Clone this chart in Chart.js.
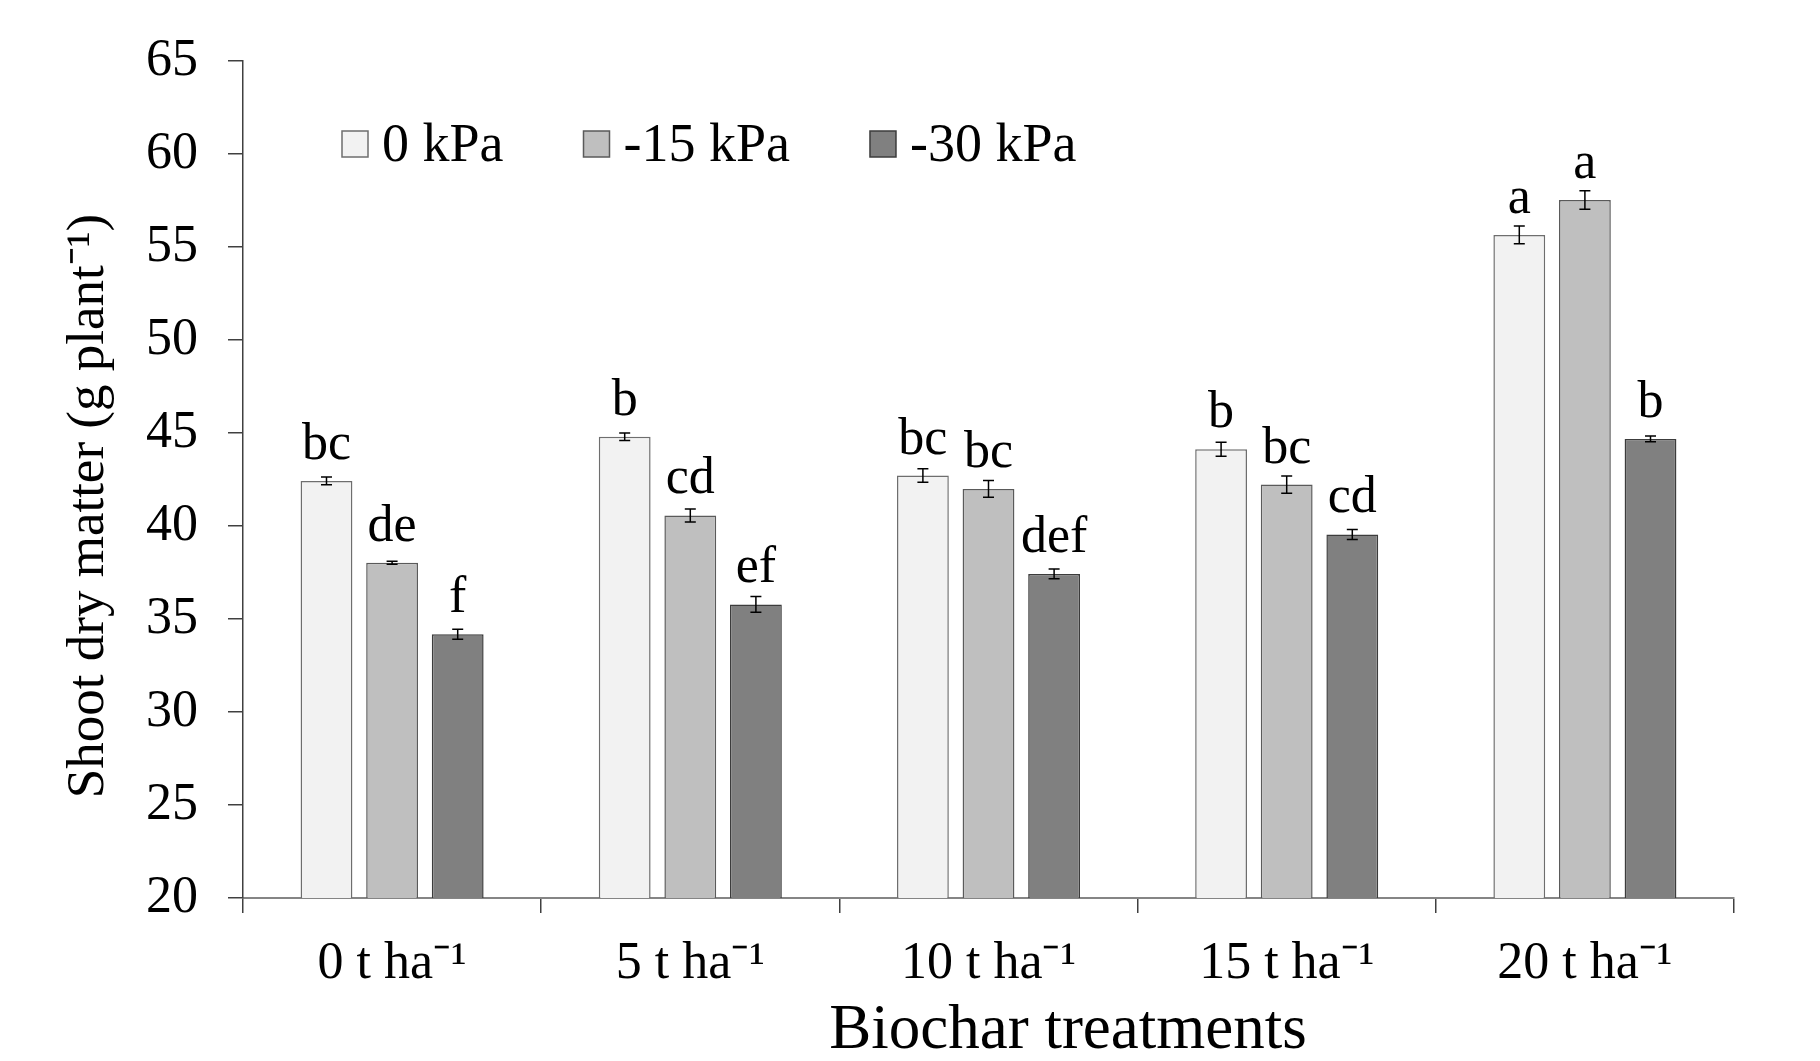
<!DOCTYPE html>
<html>
<head>
<meta charset="utf-8">
<script src="https://cdn.jsdelivr.net/npm/chart.js@4.4.0/dist/chart.umd.min.js"></script>
<style>
  html, body { margin: 0; padding: 0; background: #fff; }
  #wrap { width: 1820px; height: 1061px; }
</style>
</head>
<body>
<div id="wrap"><canvas id="chart" width="1820" height="1061"></canvas></div>
<script>
// Shoot dry matter by biochar rate and soil water potential

const categories = ["0 t ha\u207B\u00B9", "5 t ha\u207B\u00B9", "10 t ha\u207B\u00B9", "15 t ha\u207B\u00B9", "20 t ha\u207B\u00B9"]
const seriesNames = ["0 kPa", "-15 kPa", "-30 kPa"]

const kpa0 = [42.43, 44.8, 42.72, 44.13, 55.66]
const kpa15 = [38.03, 40.57, 42.0, 42.23, 57.54]
const kpa30 = [34.18, 35.79, 37.43, 39.55, 44.69]

const err0 = [0.21, 0.2, 0.36, 0.38, 0.48]
const err15 = [0.08, 0.35, 0.45, 0.46, 0.5]
const err30 = [0.27, 0.43, 0.26, 0.27, 0.16]

const letters0 = ["bc", "b", "bc", "b", "a"]
const letters15 = ["de", "cd", "bc", "bc", "a"]
const letters30 = ["f", "ef", "def", "cd", "b"]

const yMin = 20
const yMax = 65
const yStep = 5

const yTitle = "Shoot dry matter (g plant\u207B\u00B9)"
const xTitle = "Biochar treatments"

const serif = '"Liberation Serif", "Times New Roman", serif'

// Error bars + significance letters above each bar
const errorBarsPlugin = {
  id: "errorBars",
  afterDatasetsDraw(chart) {
    const ctx = chart.ctx
    const yScale = chart.scales.y
    ctx.save()
    chart.data.datasets.forEach((ds, i) => {
      const meta = chart.getDatasetMeta(i)
      meta.data.forEach((bar, j) => {
        const v = ds.data[j]
        const e = ds.errors[j]
        const top = yScale.getPixelForValue(v + e)
        const bot = yScale.getPixelForValue(v - e)
        ctx.strokeStyle = "#000"
        ctx.lineWidth = 1.5
        ctx.beginPath()
        ctx.moveTo(bar.x, top)
        ctx.lineTo(bar.x, bot)
        ctx.moveTo(bar.x - 5.5, top)
        ctx.lineTo(bar.x + 5.5, top)
        ctx.moveTo(bar.x - 5.5, bot)
        ctx.lineTo(bar.x + 5.5, bot)
        ctx.stroke()

        ctx.fillStyle = "#000"
        ctx.font = `52px ${serif}`
        ctx.textAlign = "center"
        ctx.textBaseline = "alphabetic"
        ctx.fillText(ds.letters[j], bar.x, bar.y - 22)
      })
    })
    ctx.restore()
  },
}

// Legend inside the plot, top left
const legendPlugin = {
  id: "innerLegend",
  afterDraw(chart) {
    const ctx = chart.ctx
    ctx.save()
    ctx.font = `54px ${serif}`
    ctx.textAlign = "left"
    ctx.textBaseline = "alphabetic"
    let x = 342
    const boxY = 131
    const box = 26
    chart.data.datasets.forEach((ds) => {
      ctx.fillStyle = ds.backgroundColor
      ctx.fillRect(x, boxY, box, box)
      ctx.strokeStyle = ds.borderColor
      ctx.lineWidth = 1.5
      ctx.strokeRect(x, boxY, box, box)
      ctx.fillStyle = "#000"
      ctx.fillText(ds.label, x + box + 14, 161)
      x += box + 14 + ctx.measureText(ds.label).width + 80
    })
    ctx.restore()
  },
}

// Axis titles
const titlesPlugin = {
  id: "axisTitles",
  afterDraw(chart) {
    const ctx = chart.ctx
    ctx.save()
    ctx.fillStyle = "#000"
    ctx.textAlign = "center"

    ctx.font = `63px ${serif}`
    ctx.textBaseline = "alphabetic"
    ctx.fillText(xTitle, 1068, 1048)

    ctx.translate(89, 506)
    ctx.rotate(-Math.PI / 2)
    ctx.font = `53px ${serif}`
    ctx.textBaseline = "middle"
    ctx.fillText(yTitle, 0, 0)
    ctx.restore()
  },
}

const ctx = document.getElementById("chart").getContext("2d")

new Chart(ctx, {
  type: "bar",
  data: {
    labels: categories,
    datasets: [
      {
        label: seriesNames[0],
        data: kpa0,
        errors: err0,
        letters: letters0,
        backgroundColor: "#f2f2f2",
        borderColor: "#6e6e6e",
        borderWidth: 1.5,
      },
      {
        label: seriesNames[1],
        data: kpa15,
        errors: err15,
        letters: letters15,
        backgroundColor: "#bfbfbf",
        borderColor: "#5a5a5a",
        borderWidth: 1.5,
      },
      {
        label: seriesNames[2],
        data: kpa30,
        errors: err30,
        letters: letters30,
        backgroundColor: "#808080",
        borderColor: "#3c3c3c",
        borderWidth: 1.5,
      },
    ],
  },
  options: {
    responsive: false,
    animation: false,
    devicePixelRatio: 1,
    categoryPercentage: 0.66,
    barPercentage: 0.79,
    layout: {
      padding: { left: 0, top: 60, right: 86, bottom: 0 },
    },
    plugins: {
      legend: { display: false },
      tooltip: { enabled: false },
    },
    scales: {
      x: {
        grid: {
          offset: true,
          drawOnChartArea: false,
          drawTicks: true,
          tickLength: 15,
          tickColor: "#404040",
          lineWidth: 1.5,
        },
        border: { display: true, color: "#858585", width: 2 },
        ticks: {
          color: "#000",
          padding: 20,
          maxRotation: 0,
          font: { family: serif, size: 52 },
        },
        afterFit: (scale) => {
          scale.height = 163
        },
      },
      y: {
        min: yMin,
        max: yMax,
        grid: {
          drawOnChartArea: false,
          drawTicks: true,
          tickLength: 15,
          tickColor: "#404040",
          lineWidth: 1.5,
        },
        border: { display: true, color: "#404040", width: 1.5 },
        ticks: {
          stepSize: yStep,
          color: "#000",
          padding: 30,
          font: { family: serif, size: 52 },
        },
        afterFit: (scale) => {
          scale.width = 243
        },
      },
    },
  },
  plugins: [errorBarsPlugin, legendPlugin, titlesPlugin],
})
</script>
</body>
</html>
